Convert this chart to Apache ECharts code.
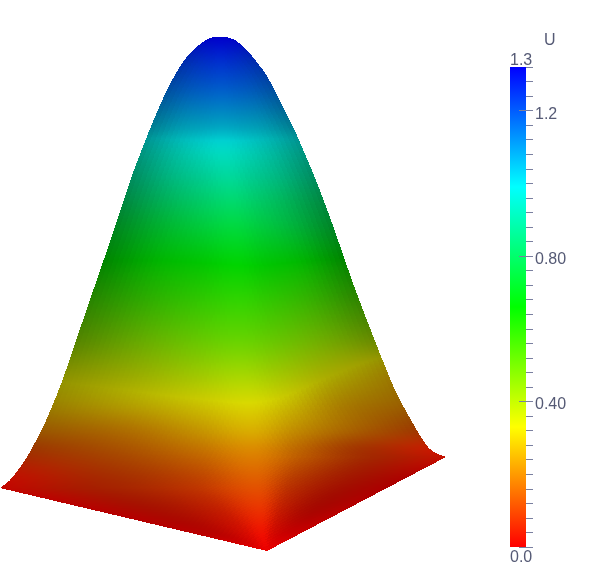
<!DOCTYPE html>
<html>
<head>
<meta charset="utf-8">
<style>
  html, body { margin: 0; padding: 0; background: #ffffff; }
  #chart_example { width: 590px; height: 581px; }
</style>
<script src="https://cdn.jsdelivr.net/npm/echarts@6/dist/echarts.min.js"></script>
</head>
<body>
<div id="chart_example"></div>
<script>
// curved edges of the surface (image pixels)
var leftY  = [37, 38, 42, 51, 62, 75, 88, 103, 117, 130, 153, 172, 195, 217, 238, 259, 290, 323, 360, 393, 427, 447, 460, 480, 488];
var leftX  = [214, 210, 203, 192, 183, 175, 168, 161, 155, 149.5, 140.5, 133.3, 125.5, 118.3, 111.3, 104, 93.3, 82, 69.5, 57.5, 43, 32.5, 25, 10, 0];
var rightY = [37, 38, 40, 50, 62, 73, 88, 105, 118, 130, 153, 178, 200, 223, 243, 259, 290, 323, 360, 393, 427, 447, 453, 457];
var rightX = [226, 229, 235, 246.7, 256.7, 265, 273.5, 282, 288.5, 294.5, 304.5, 315, 323.5, 332, 339, 344.5, 355.5, 368, 382.5, 396.5, 415, 428, 436, 446];
// straight base, from each side corner down to the front corner
var baseLeftY  = [488, 551];
var baseLeftX  = [0, 267];
var baseRightY = [457, 551];
var baseRightX = [446, 267];

// bright middle line of the surface
var ridgeRowY = [37, 150, 190, 265, 370, 403, 480, 535, 551];
var ridgeX    = [220, 223, 230, 237, 240, 250, 257, 263, 267];

// U and shading, per row, across the surface: -1 left edge, 0 ridge, 1 right edge
var colorRowY = [37, 60, 92, 125, 150, 175, 200, 225, 265, 300, 340, 370, 403, 430, 450, 480, 510, 535, 551];
var acrossS   = [-1, -0.6, -0.25, 0, 0.25, 0.6, 1];
var uRows = [
  [1.32, 1.32, 1.32, 1.32, 1.32, 1.32, 1.32],
  [1.24, 1.245, 1.25, 1.25, 1.25, 1.245, 1.24],
  [1.15, 1.155, 1.16, 1.16, 1.16, 1.155, 1.15],
  [1.04, 1.04, 1.045, 1.045, 1.045, 1.04, 1.04],
  [0.95, 0.955, 0.96, 0.96, 0.96, 0.955, 0.95],
  [0.89, 0.895, 0.9, 0.9, 0.9, 0.895, 0.89],
  [0.82, 0.825, 0.83, 0.83, 0.83, 0.825, 0.82],
  [0.745, 0.75, 0.76, 0.76, 0.765, 0.77, 0.76],
  [0.65, 0.65, 0.655, 0.66, 0.66, 0.65, 0.64],
  [0.56, 0.57, 0.58, 0.585, 0.58, 0.56, 0.54],
  [0.45, 0.465, 0.49, 0.5, 0.49, 0.45, 0.41],
  [0.36, 0.38, 0.41, 0.42, 0.405, 0.35, 0.28],
  [0.28, 0.3, 0.32, 0.33, 0.31, 0.25, 0.21],
  [0.19, 0.21, 0.25, 0.265, 0.24, 0.19, 0.12],
  [0.11, 0.155, 0.19, 0.205, 0.175, 0.1, 0.04],
  [0.02, 0.08, 0.11, 0.135, 0.1, 0.045, 0],
  [0, 0.03, 0.05, 0.07, 0.045, 0.015, 0],
  [0, 0.005, 0.015, 0.02, 0.012, 0, 0],
  [0, 0, 0, 0, 0, 0, 0]
];
var shadeRows = [
  [0.8, 0.8, 0.8, 0.8, 0.8, 0.8, 0.8],
  [0.68, 0.75, 0.79, 0.81, 0.79, 0.75, 0.68],
  [0.62, 0.72, 0.77, 0.79, 0.77, 0.72, 0.62],
  [0.57, 0.69, 0.74, 0.76, 0.74, 0.69, 0.57],
  [0.58, 0.72, 0.81, 0.85, 0.81, 0.72, 0.58],
  [0.55, 0.71, 0.8, 0.85, 0.8, 0.71, 0.55],
  [0.53, 0.7, 0.8, 0.85, 0.8, 0.7, 0.53],
  [0.52, 0.7, 0.8, 0.85, 0.8, 0.7, 0.52],
  [0.52, 0.7, 0.78, 0.83, 0.78, 0.71, 0.52],
  [0.52, 0.68, 0.78, 0.83, 0.78, 0.69, 0.52],
  [0.52, 0.67, 0.78, 0.83, 0.78, 0.68, 0.54],
  [0.56, 0.67, 0.78, 0.84, 0.78, 0.67, 0.6],
  [0.6, 0.7, 0.79, 0.85, 0.78, 0.66, 0.6],
  [0.6, 0.68, 0.77, 0.85, 0.76, 0.66, 0.62],
  [0.62, 0.66, 0.76, 0.86, 0.74, 0.64, 0.78],
  [0.76, 0.65, 0.74, 0.88, 0.72, 0.64, 0.68],
  [0.72, 0.66, 0.76, 0.92, 0.76, 0.66, 0.72],
  [0.74, 0.74, 0.84, 0.94, 0.84, 0.8, 0.8],
  [0.93, 0.93, 0.93, 0.93, 0.93, 0.93, 0.93]
];

// colour bar
var uMax = 1.32;
var minorStep = 0.04;
var majorTicks = [0, 0.4, 0.8, 1.2];
var labelTicks = [0.4, 0.8, 1.2];
var labelText = ["0.40", "0.80", "1.2"];
var barStops = ["#ff0000", "#ffff00", "#00ff00", "#00ffff", "#0000ff"];

var labelColor = "#555a75";
var tickColor = "#7a80a0";

function findIndex(list, v) {
  var i = 0;
  while (i < list.length - 2 && v > list[i + 1]) i++;
  return i;
}
// hermite curve through the read values, so the rows do not show kinks
function smooth(xs, ys, v) {
  var i = findIndex(xs, v);
  var h = xs[i + 1] - xs[i];
  var t = Math.max(0, Math.min(1, (v - xs[i]) / h));
  var d = (ys[i + 1] - ys[i]) / h;
  var m0 = i > 0 ? (ys[i + 1] - ys[i - 1]) / (xs[i + 1] - xs[i - 1]) : d;
  var m1 = i < xs.length - 2 ? (ys[i + 2] - ys[i]) / (xs[i + 2] - xs[i]) : d;
  var t2 = t * t, t3 = t2 * t;
  return (2 * t3 - 3 * t2 + 1) * ys[i] + (t3 - 2 * t2 + t) * h * m0 +
         (-2 * t3 + 3 * t2) * ys[i + 1] + (t3 - t2) * h * m1;
}
function linear(xs, ys, v) {
  var i = findIndex(xs, v);
  var f = Math.max(0, Math.min(1, (v - xs[i]) / (xs[i + 1] - xs[i])));
  return ys[i] + (ys[i + 1] - ys[i]) * f;
}
function edgeLeft(y) {
  if (y <= baseLeftY[0]) return smooth(leftY, leftX, y);
  return linear(baseLeftY, baseLeftX, y);
}
function edgeRight(y) {
  if (y <= baseRightY[0]) return smooth(rightY, rightX, y);
  return linear(baseRightY, baseRightX, y);
}
// look up a table at image row y and across position s
function lookup(table, y, s) {
  var r = Math.max(0, findIndex(colorRowY, y) - 1);
  var top = Math.min(colorRowY.length, r + 4);
  var ys = [], vals = [];
  for (var k = r; k < top; k++) {
    ys.push(colorRowY[k]);
    vals.push(smooth(acrossS, table[k], s));
  }
  return smooth(ys, vals, y);
}
function hsvColor(h, v) {
  // saturation is always 1 on this colour map
  var k = h / 60, i = Math.floor(k), f = k - i, r, g, b;
  var up = v * f, down = v * (1 - f);
  if (i <= 0) { r = v; g = up; b = 0; }
  else if (i == 1) { r = down; g = v; b = 0; }
  else if (i == 2) { r = 0; g = v; b = up; }
  else if (i == 3) { r = 0; g = down; b = v; }
  else { r = 0; g = 0; b = v; }
  return "rgb(" + Math.round(r * 255) + "," + Math.round(g * 255) + "," + Math.round(b * 255) + ")";
}

// one item for each band of rows between two colour rows
var bandData = colorRowY.slice(0, -1).map(function (y, i) { return [i, y]; });

function renderBand(params, api) {
  var i = api.value(0);
  var children = [];
  for (var y = colorRowY[i]; y < colorRowY[i + 1]; y++) {
    var ym = y + 0.5;
    var left = edgeLeft(ym), right = edgeRight(ym);
    var ridge = linear(ridgeRowY, ridgeX, ym);
    var cols = Math.max(1, Math.ceil((right - left) / 5));
    for (var c = 0; c < cols; c++) {
      var x0 = left + (right - left) * c / cols;
      var x1 = left + (right - left) * (c + 1) / cols;
      var xm = (x0 + x1) / 2;
      var s = xm < ridge ? (xm - ridge) / Math.max(1, ridge - left) : (xm - ridge) / Math.max(1, right - ridge);
      s = Math.max(-1, Math.min(1, s));
      var u = Math.max(0, Math.min(uMax, lookup(uRows, ym, s)));
      var shade = Math.max(0, Math.min(1, lookup(shadeRows, ym, s)));
      var p0 = api.coord([x0, y]);
      var p1 = api.coord([x1, y + 1]);
      var px0 = Math.round(p0[0]), px1 = Math.round(p1[0]);
      if (px1 <= px0) continue;
      children.push({
        type: "rect",
        shape: { x: px0, y: Math.round(p0[1]), width: px1 - px0, height: Math.round(p1[1]) - Math.round(p0[1]) },
        style: { fill: hsvColor(240 * u / uMax, shade) }
      });
    }
  }
  return { type: "group", children: children };
}

var myChart = echarts.init(document.getElementById("chart_example"));
var option = {
  backgroundColor: "#ffffff",
  animation: false,
  grid: [
    { left: 0, top: 0, width: 590, height: 581 },
    { left: 510, top: 67, width: 16, height: 480 }
  ],
  xAxis: [
    { gridIndex: 0, type: "value", min: 0, max: 590, show: false },
    { gridIndex: 1, type: "category", data: ["U"], show: false }
  ],
  yAxis: [
    { gridIndex: 0, type: "value", min: 0, max: 581, inverse: true, show: false },
    {
      // minor ticks, outside the bar
      gridIndex: 1, type: "value", position: "right", min: 0, max: uMax, interval: minorStep,
      splitLine: { show: false }, axisLine: { show: false },
      axisTick: { show: true, length: 7, inside: false, lineStyle: { color: tickColor, width: 1 } },
      axisLabel: {
        show: true, margin: 9, fontSize: 16, color: labelColor, fontFamily: "Liberation Sans",
        // the text sits a little below its tick
        verticalAlign: "top", lineHeight: 7,
        customValues: labelTicks,
        formatter: function (v) {
          for (var i = 0; i < labelTicks.length; i++) {
            if (Math.abs(labelTicks[i] - v) < 1e-6) return labelText[i];
          }
          return "";
        }
      }
    },
    {
      // the labelled ticks also run into the bar
      gridIndex: 1, type: "value", position: "right", min: 0, max: uMax,
      splitLine: { show: false }, axisLine: { show: false }, axisLabel: { show: false },
      axisTick: { show: true, length: 7, inside: true, customValues: majorTicks, lineStyle: { color: tickColor, width: 1 } },
      z: 10
    }
  ],
  series: [
    {
      type: "custom",
      xAxisIndex: 0,
      yAxisIndex: 0,
      silent: true,
      progressive: 0,
      clip: false,
      data: bandData,
      encode: { x: 1, y: 1 },
      renderItem: renderBand
    },
    {
      type: "bar",
      xAxisIndex: 1,
      yAxisIndex: 1,
      silent: true,
      barWidth: "100%",
      data: [uMax],
      z: 1,
      itemStyle: {
        color: new echarts.graphic.LinearGradient(0, 1, 0, 0, barStops.map(function (c, i) {
          return { offset: i / (barStops.length - 1), color: c };
        }))
      }
    }
  ],
  graphic: [
    { type: "text", left: 544, top: 33, style: { text: "U", fontSize: 16, fontFamily: "Liberation Sans", fill: labelColor } },
    { type: "text", left: 510, top: 53, style: { text: "1.3", fontSize: 16, fontFamily: "Liberation Sans", fill: labelColor } },
    { type: "text", left: 510, top: 550, style: { text: "0.0", fontSize: 16, fontFamily: "Liberation Sans", fill: labelColor } }
  ]
};
myChart.setOption(option);
</script>
</body>
</html>
